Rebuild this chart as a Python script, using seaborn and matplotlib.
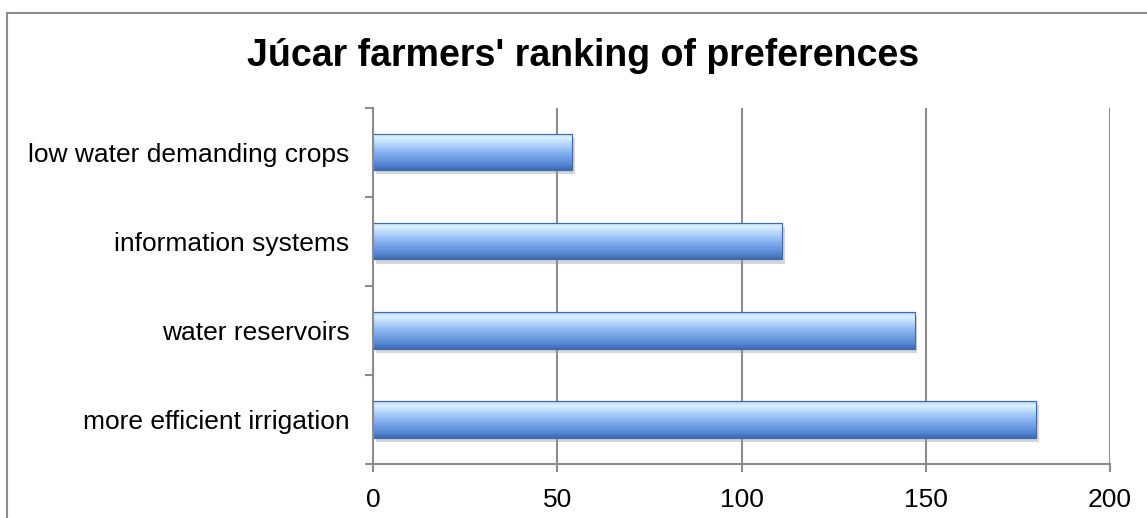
import numpy as np
import pandas as pd
import matplotlib
matplotlib.use("Agg")
import matplotlib.pyplot as plt
import seaborn as sns
from matplotlib.lines import Line2D
from matplotlib.colors import LinearSegmentedColormap
import matplotlib.patheffects as pe

categories = ["low water demanding crops", "information systems",
              "water reservoirs", "more efficient irrigation"]
values = [54, 111, 147, 180]
x_ticks = [0, 50, 100, 150, 200]
title = "Júcar farmers' ranking of preferences"

sns.set_theme(style="white")
plt.rcParams['font.family'] = ['Liberation Sans', 'DejaVu Sans']

df = pd.DataFrame({"category": categories, "value": values})

fig = plt.figure(figsize=(11.47, 5.18), dpi=100)
ax = fig.add_axes([373/1147, 1-464/518, (1110-373)/1147, (464-107.5)/518])

sns.barplot(data=df, y="category", x="value", orient="h", ax=ax,
            color="#7fa8e6", width=0.41, edgecolor="#3d6bab", linewidth=0.8,
            saturation=1)

grid_c = "#8c8c8c"
ax.set_xlim(0, 200)
ax.set_ylim(3.5, -0.5)
ax.set_xticks(x_ticks)
ax.set_xticklabels([str(t) for t in x_ticks])
ax.xaxis.grid(True, color=grid_c, linewidth=1.5)
ax.set_axisbelow(True)
ax.set_xlabel("")
ax.set_ylabel("")

for s in ["top", "right"]:
    ax.spines[s].set_visible(False)
for s in ["left", "bottom"]:
    ax.spines[s].set_color(grid_c)
    ax.spines[s].set_linewidth(1.5)

ax.set_yticks(range(len(categories)))
ax.set_yticklabels(categories)
ax.set_yticks(np.arange(-0.5, len(categories), 1.0), minor=True)
ax.tick_params(axis="y", which="major", length=0, pad=17, labelsize=19, labelcolor="black")
ax.tick_params(axis="y", which="minor", length=6, width=1.5, color=grid_c, direction="out", left=True)
ax.tick_params(axis="x", length=6, width=1.5, color=grid_c, direction="out", bottom=True,
               pad=11, labelsize=19, labelcolor="black")

# gradient fill clipped to each bar
cmap = LinearSegmentedColormap.from_list("bar", [
    (0.0, "#a9cbf8"), (0.12, "#dcf3ff"), (0.3, "#b3d5fd"),
    (0.55, "#84aeee"), (0.85, "#5687d4"), (1.0, "#3c6ab0")])
grad = np.linspace(0, 1, 256).reshape(-1, 1)
for p in ax.patches:
    x0, y0 = p.get_x(), p.get_y()
    w, h = p.get_width(), p.get_height()
    p.set_path_effects([pe.SimplePatchShadow(offset=(2, -3), shadow_rgbFace="#9a9a9a", alpha=0.4),
                        pe.Normal()])
    im = ax.imshow(grad, cmap=cmap, aspect="auto", origin="upper",
                   extent=(x0, x0 + w, y0 + h, y0), zorder=p.get_zorder() + 0.1,
                   interpolation="bicubic")
    im.set_clip_path(p)
    edge = plt.Rectangle((x0, y0), w, h, fill=False, edgecolor="#3d6bab",
                         linewidth=0.8, zorder=p.get_zorder() + 0.2)
    ax.add_patch(edge)
ax.set_xlim(0, 200)
ax.set_ylim(3.5, -0.5)

fig.text(583/1147, 1-56/518, title, ha="center", va="center",
         fontsize=27, fontweight="bold", color="black")

# outer chart border (left and top visible)
bc = "#8c8c8c"
fig.add_artist(Line2D([7/1147, 7/1147], [0, 1-13/518], transform=fig.transFigure, color=bc, linewidth=1.5))
fig.add_artist(Line2D([7/1147, 1], [1-13/518, 1-13/518], transform=fig.transFigure, color=bc, linewidth=1.5))

fig.savefig("out.png", dpi=100)
